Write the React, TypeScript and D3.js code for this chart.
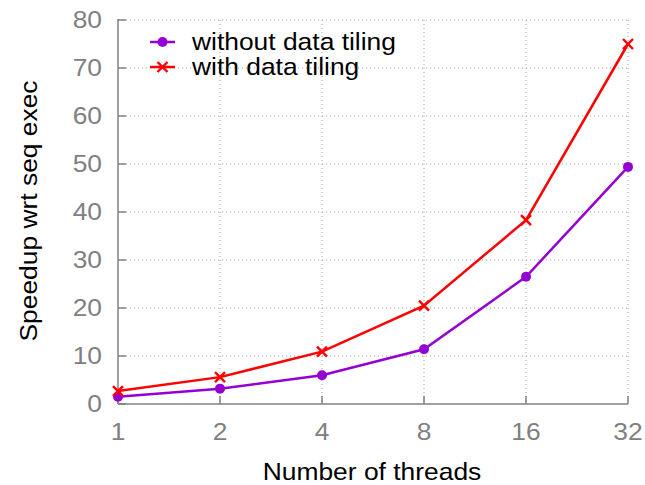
import React from "react";
import * as d3 from "d3";

const threads = [1, 2, 4, 8, 16, 32];
const withoutTiling = [1.5, 3.2, 6.0, 11.4, 26.5, 49.4];
const withTiling = [2.7, 5.6, 10.9, 20.5, 38.3, 75.0];
const yTicks = [0, 10, 20, 30, 40, 50, 60, 70, 80];
const seriesNames = ["without data tiling", "with data tiling"];

const W = 645, H = 485;
const left = 118, right = 628, top = 20, bottom = 404;
const font = "'Liberation Sans', Arial, Helvetica, sans-serif";
const gray = "#808080";
const purple = "#9400D3";
const red = "#FF0000";
const FS = 24;
const SX = 1.1;

function T({ x, y, anchor = "start", rotate = 0, fill = "#000", children }: any) {
  return (
    <text
      transform={`translate(${x},${y}) rotate(${rotate}) scale(${SX},1)`}
      textAnchor={anchor}
      fontFamily={font}
      fontSize={FS}
      fill={fill}
    >
      {children}
    </text>
  );
}

export default function App() {
  const x = d3.scaleLog().base(2).domain([1, 32]).range([left, right]);
  const y = d3.scaleLinear().domain([0, 80]).range([bottom, top]);
  const line = d3.line<number>().x((_, i) => x(threads[i])).y((d) => y(d));

  const Cross = ({ cx, cy }: { cx: number; cy: number }) => (
    <g stroke={red} strokeWidth={2.4}>
      <line x1={cx - 5} y1={cy - 5} x2={cx + 5} y2={cy + 5} />
      <line x1={cx - 5} y1={cy + 5} x2={cx + 5} y2={cy - 5} />
    </g>
  );

  return (
    <svg width={W} height={H} style={{ position: "absolute", left: 0, top: 0 }}>
      <rect width={W} height={H} fill="#fff" />
      {/* grid */}
      <g stroke="#a0a0a0" strokeWidth={1} strokeDasharray="1,3">
        {yTicks.filter((t) => t > 0).map((t) => (
          <line key={t} x1={left} x2={right} y1={y(t)} y2={y(t)} />
        ))}
        {threads.filter((t) => t > 1).map((t) => (
          <line key={t} x1={x(t)} x2={x(t)} y1={top} y2={bottom} />
        ))}
      </g>
      {/* axes */}
      <g stroke={gray} strokeWidth={1.5}>
        <line x1={left} x2={left} y1={top - 1} y2={bottom} />
        <line x1={left} x2={right} y1={bottom} y2={bottom} />
        {yTicks.map((t) => (
          <line key={t} x1={left} x2={left + 8} y1={y(t)} y2={y(t)} />
        ))}
        {threads.map((t) => (
          <line key={t} x1={x(t)} x2={x(t)} y1={bottom} y2={bottom - 8} />
        ))}
      </g>
      {/* tick labels */}
      {yTicks.map((t) => (
        <T key={t} x={102} y={y(t) + 8} anchor="end" fill={gray}>{t}</T>
      ))}
      {threads.map((t) => (
        <T key={t} x={x(t)} y={440} anchor="middle" fill={gray}>{t}</T>
      ))}
      {/* axis titles */}
      <T x={372} y={480} anchor="middle">Number of threads</T>
      <T x={37} y={211} anchor="middle" rotate={-90}>Speedup wrt seq exec</T>
      {/* series */}
      <path d={line(withoutTiling) || ""} fill="none" stroke={purple} strokeWidth={2.5} />
      <path d={line(withTiling) || ""} fill="none" stroke={red} strokeWidth={2.5} />
      {withoutTiling.map((v, i) => (
        <circle key={i} cx={x(threads[i])} cy={y(v)} r={5} fill={purple} />
      ))}
      {withTiling.map((v, i) => (
        <Cross key={i} cx={x(threads[i])} cy={y(v)} />
      ))}
      {/* legend */}
      <line x1={150} x2={175} y1={42} y2={42} stroke={purple} strokeWidth={2.5} />
      <circle cx={162.5} cy={42} r={5} fill={purple} />
      <T x={192} y={50}>{seriesNames[0]}</T>
      <line x1={150} x2={175} y1={67} y2={67} stroke={red} strokeWidth={2.5} />
      <Cross cx={162.5} cy={67} />
      <T x={192} y={75}>{seriesNames[1]}</T>
    </svg>
  );
}
